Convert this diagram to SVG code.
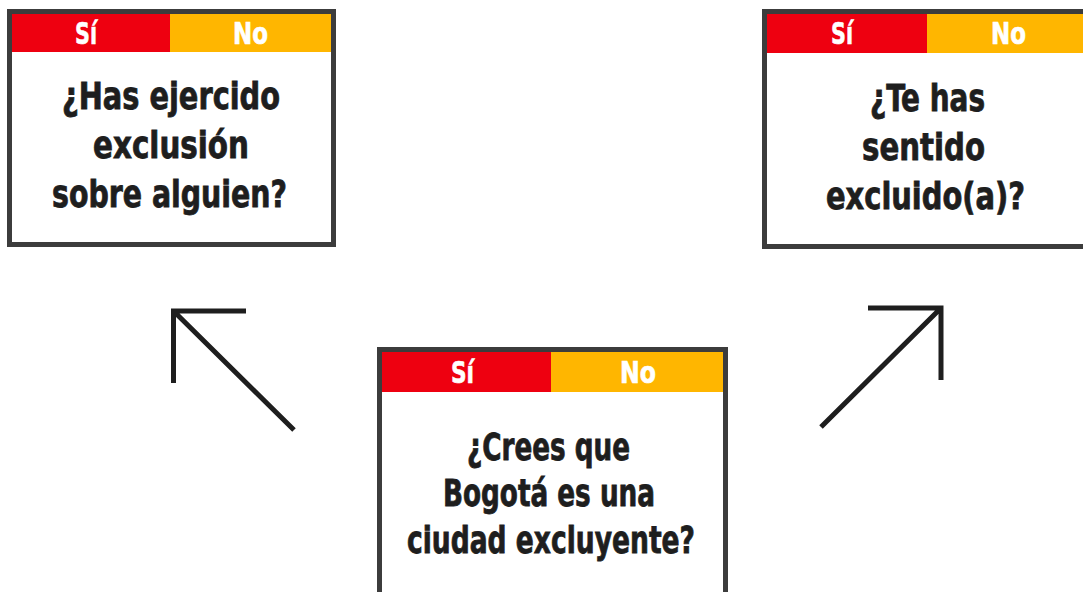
<svg xmlns="http://www.w3.org/2000/svg" width="1083" height="592" viewBox="0 0 1083 592">
<style>
.frame{fill:#ffffff;stroke:#3c3c3c;stroke-width:5}
.si{fill:#ee0010}
.no{fill:#ffb600}
.hd{font-family:"DejaVu Sans Condensed","DejaVu Sans",sans-serif;font-stretch:condensed;font-weight:bold;font-size:31px;fill:#ffffff;stroke:#ffffff;stroke-width:0.6}
.q{font-family:"DejaVu Sans Condensed","DejaVu Sans",sans-serif;font-stretch:condensed;font-weight:bold;font-size:38px;fill:#1e1e1e;stroke:#1e1e1e;stroke-width:0.8}
.arrow{fill:none;stroke:#1e1e1e;stroke-width:5;stroke-linecap:butt}
</style>
<rect width="1083" height="592" fill="#ffffff"/>
<g id="node-ejercido">
<rect class="frame" x="9.5" y="11.5" width="324" height="233"/>
<rect class="si" x="12" y="14" width="158" height="38"/>
<rect class="no" x="170" y="14" width="161" height="38"/>
<text class="hd" x="75" y="44" textLength="22" lengthAdjust="spacingAndGlyphs">Sí</text>
<text class="hd" x="233" y="44" textLength="35" lengthAdjust="spacingAndGlyphs">No</text>
<text class="q" x="62" y="109" textLength="218" lengthAdjust="spacingAndGlyphs">¿Has ejercido</text>
<text class="q" x="93" y="158" textLength="156" lengthAdjust="spacingAndGlyphs">exclusión</text>
<text class="q" x="52" y="207" textLength="235" lengthAdjust="spacingAndGlyphs">sobre alguien?</text>
</g>
<g id="node-excluido">
<rect class="frame" x="764.5" y="11.5" width="324" height="235"/>
<rect class="si" x="767" y="14" width="160" height="39"/>
<rect class="no" x="927" y="14" width="160" height="39"/>
<text class="hd" x="831" y="44" textLength="22" lengthAdjust="spacingAndGlyphs">Sí</text>
<text class="hd" x="991" y="44" textLength="35" lengthAdjust="spacingAndGlyphs">No</text>
<text class="q" x="870" y="111" textLength="115" lengthAdjust="spacingAndGlyphs">¿Te has</text>
<text class="q" x="862" y="160" textLength="123" lengthAdjust="spacingAndGlyphs">sentido</text>
<text class="q" x="826" y="209" textLength="199" lengthAdjust="spacingAndGlyphs">excluido(a)?</text>
</g>
<g id="node-bogota">
<rect class="frame" x="379.5" y="349.5" width="346" height="260"/>
<rect class="si" x="382" y="352" width="169" height="40"/>
<rect class="no" x="551" y="352" width="172" height="40"/>
<text class="hd" x="451" y="383" textLength="23" lengthAdjust="spacingAndGlyphs">Sí</text>
<text class="hd" x="620" y="383" textLength="36" lengthAdjust="spacingAndGlyphs">No</text>
<text class="q" x="467" y="460" textLength="163" lengthAdjust="spacingAndGlyphs">¿Crees que</text>
<text class="q" x="443" y="506" textLength="212" lengthAdjust="spacingAndGlyphs">Bogotá es una</text>
<text class="q" x="407" y="553" textLength="288" lengthAdjust="spacingAndGlyphs">ciudad excluyente?</text>
</g>
<g id="connectors">
<path class="arrow" d="M246,311 H173.5 V383 M173.5,311 L294,430"/>
<path class="arrow" d="M868,308 H941 V380 M941,308 L821,427"/>
</g>
</svg>
